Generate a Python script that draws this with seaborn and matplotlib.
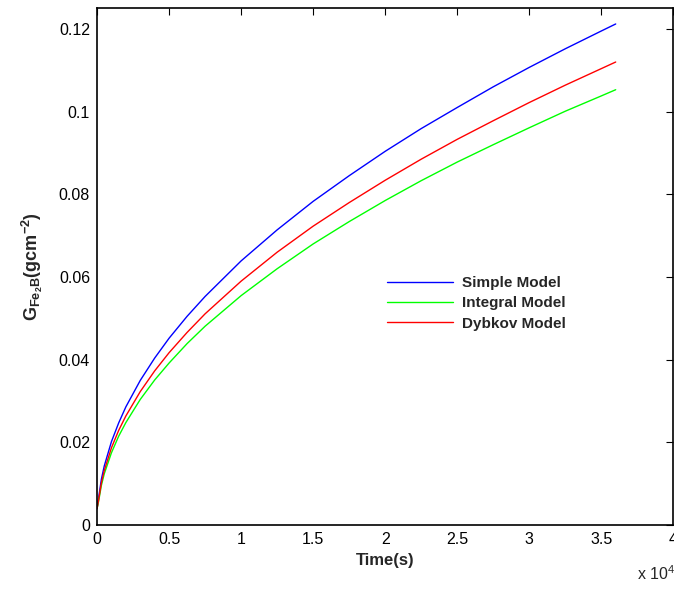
import numpy as np
import pandas as pd
import matplotlib
matplotlib.use("Agg")
import matplotlib.pyplot as plt
import seaborn as sns

# tiempo en unidades de 1e4 s
tiempo = [0, 0.01, 0.03, 0.05, 0.1, 0.15, 0.2, 0.3, 0.4, 0.5, 0.625, 0.75,
          1.0, 1.25, 1.5, 1.75, 2.0, 2.25, 2.5, 2.75, 3.0, 3.25, 3.5, 3.6]
simple = [0.004, 0.0064, 0.0111, 0.0143, 0.0202, 0.0247, 0.0286, 0.0350,
          0.0404, 0.0452, 0.0505, 0.0553, 0.0639, 0.0714, 0.0783, 0.0845,
          0.0904, 0.0959, 0.1010, 0.1060, 0.1107, 0.1152, 0.1195, 0.1212]
integral = [0.004, 0.0056, 0.0096, 0.0124, 0.0175, 0.0215, 0.0248, 0.0304,
            0.0351, 0.0392, 0.0439, 0.0481, 0.0555, 0.0620, 0.0680, 0.0734,
            0.0785, 0.0833, 0.0878, 0.0920, 0.0961, 0.1001, 0.1038, 0.1053]
dybkov = [0.004, 0.0059, 0.0102, 0.0132, 0.0187, 0.0229, 0.0264, 0.0323,
          0.0373, 0.0417, 0.0466, 0.0511, 0.0590, 0.0660, 0.0723, 0.0780,
          0.0834, 0.0885, 0.0933, 0.0978, 0.1022, 0.1064, 0.1104, 0.1120]
modelos = ["Simple Model", "Integral Model", "Dybkov Model"]
colores = ["#0000ff", "#00ff00", "#ff0000"]
xticks = [0, 0.5, 1, 1.5, 2, 2.5, 3, 3.5, 4]
xtick_labels = ["0", "0.5", "1", "1.5", "2", "2.5", "3", "3.5", "4"]
yticks = [0, 0.02, 0.04, 0.06, 0.08, 0.1, 0.12]
ytick_labels = ["0", "0.02", "0.04", "0.06", "0.08", "0.1", "0.12"]

df = pd.DataFrame({
    "t": tiempo * 3,
    "G": simple + integral + dybkov,
    "modelo": [modelos[0]] * len(tiempo) + [modelos[1]] * len(tiempo) + [modelos[2]] * len(tiempo),
})

sns.set_style("white")
plt.rcParams["font.family"] = ["Liberation Sans", "DejaVu Sans"]
plt.rcParams["mathtext.fontset"] = "custom"
plt.rcParams["mathtext.rm"] = "Liberation Sans"
plt.rcParams["mathtext.bf"] = "Liberation Sans:bold"

fig = plt.figure(figsize=(6.74, 5.90), dpi=100)
ax = fig.add_axes([0.144, 0.110, 0.855, 0.876])

sns.lineplot(data=df, x="t", y="G", hue="modelo", hue_order=modelos,
             palette=colores, linewidth=1.0, ax=ax, sort=False)

ax.set_xlim(0, 4)
ax.set_ylim(0, 0.125)
ax.set_xticks(xticks)
ax.set_xticklabels(xtick_labels)
ax.set_yticks(yticks)
ax.set_yticklabels(ytick_labels)
ax.tick_params(direction="in", length=5, width=0.8, labelsize=11.5,
               top=True, right=True, colors="black", pad=5)
for s in ax.spines.values():
    s.set_color("black")
    s.set_linewidth(1.2)

ax.set_xlabel("Time(s)", fontsize=12, fontweight="bold", labelpad=4)
ax.set_ylabel(r"$\mathbf{G_{Fe_2B}(gcm^{-2})}$", fontsize=13, labelpad=10)

fig.text(0.945, 0.012, r"x 10$^{4}$", fontsize=11.5, ha="left", va="bottom")

leg = ax.legend(loc="upper left", bbox_to_anchor=(0.48, 0.508), frameon=False,
                handlelength=4.3, handletextpad=0.55, labelspacing=0.4,
                prop={"weight": "bold", "size": 11})

fig.savefig("out.png", dpi=100)
